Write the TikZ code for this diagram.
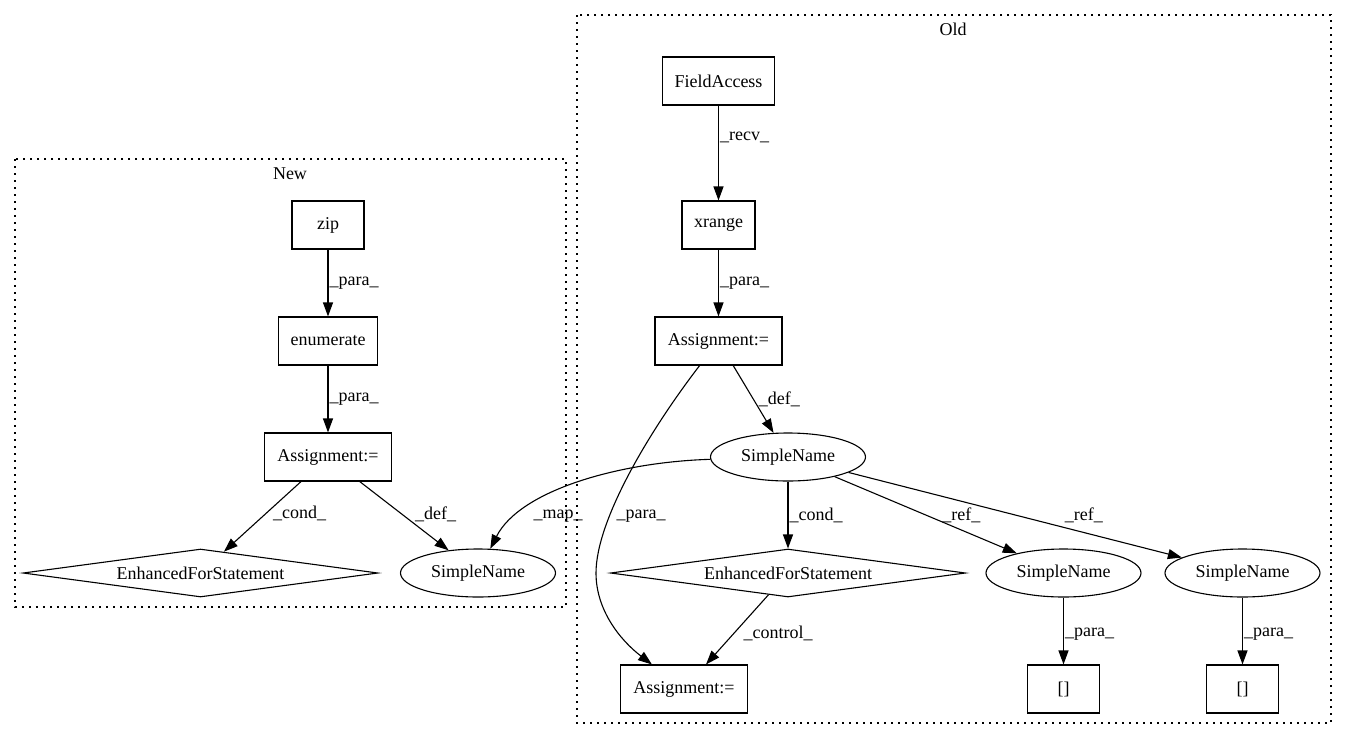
\documentclass[tikz,border=0pt]{standalone}
\usepackage{fontspec}
\setmainfont{Liberation Serif}
\usetikzlibrary{arrows.meta,shapes.geometric,positioning}

\begin{document}
\begin{tikzpicture}[x=1pt,y=-1pt,
    every node/.style={font=\fontsize{18}{20}\selectfont},
    box/.style={draw,line width=1.1pt,rectangle,minimum width=72pt,minimum height=48pt,inner xsep=12pt,inner ysep=0pt},
    oval/.style={draw,line width=1.1pt,ellipse,minimum width=155pt,minimum height=48pt,inner sep=0pt},
    stmt/.style={draw,line width=1.1pt,diamond,aspect=7.4,minimum width=355pt,minimum height=48pt,inner sep=0pt},
    flow/.style={line width=1.1pt,-{Triangle[length=14pt,width=10pt]}},
    lbl/.style={inner sep=0pt,anchor=west,xshift=1pt},
    cluster/.style={line width=1.1pt,dash pattern=on 2pt off 5pt}]
    \useasboundingbox (0,0) rectangle (1347,740);
    % the two clusters
    \draw[cluster] (15,159) rectangle (566,607);
    \node (newlbl) at (290,174) {New};
    \draw[cluster] (577,15) rectangle (1331,723);
    \node (oldlbl) at (953,29) {Old};

    % New
    \node[box] (zip) at (328,225) {zip};
    \node[box] (enum) at (328,341) {enumerate};
    \node[box,minimum width=127pt] (asnew) at (328,457) {Assignment:=};
    \node[stmt] (efsnew) at (200.5,573) {EnhancedForStatement};
    \node[oval] (snnew) at (478,573) {SimpleName};

    % Old
    \node[box] (field) at (718.5,81) {FieldAccess};
    \node[box] (xr) at (718.5,225) {xrange};
    \node[box,minimum width=127pt] (asold) at (718.5,341) {Assignment:=};
    \node[oval] (snold) at (788,457) {SimpleName};
    \node[stmt] (efsold) at (788,573) {EnhancedForStatement};
    \node[oval] (snleft) at (1063.5,573) {SimpleName};
    \node[oval] (snright) at (1242.5,573) {SimpleName};
    \node[box,minimum width=127pt] (asbot) at (684,689) {Assignment:=};
    \node[box] (idxleft) at (1063.5,689) {[]};
    \node[box] (idxright) at (1242.5,689) {[]};

    \draw[flow] (zip) -- node[lbl] {\_para\_} (enum);
    \draw[flow] (enum) -- node[lbl] {\_para\_} (asnew);
    \draw[flow] (asnew) -- node[lbl,pos=.46,xshift=6pt] {\_cond\_} (efsnew);
    \draw[flow] (asnew) -- node[lbl,pos=.47,xshift=12pt] {\_def\_} (snnew);

    \draw[flow] (field) -- node[lbl,pos=.34] {\_recv\_} (xr);
    \draw[flow] (xr) -- node[lbl] {\_para\_} (asold);
    \draw[flow] (asold) -- node[lbl,xshift=4pt] {\_def\_} (snold);
    \draw[flow] (asold) .. controls (650,430) and (596,520) .. (596,573)
      .. controls (596,610) and (620,640) .. (asbot) node[lbl] at (615,516) {\_para\_};
    \draw[flow] (snold) .. controls (620,462) and (520,490) .. (snnew) node[lbl] at (532,516) {\_map\_};
    \draw[flow] (snold) -- node[lbl] {\_cond\_} (efsold);
    \draw[flow] (snold) -- node[lbl,xshift=15pt] {\_ref\_} (snleft);
    \draw[flow] (snold) -- node[lbl,xshift=48pt] {\_ref\_} (snright);
    \draw[flow] (efsold) -- node[lbl,pos=.55,xshift=8pt] {\_control\_} (asbot);
    \draw[flow] (snleft) -- node[lbl,pos=.55] {\_para\_} (idxleft);
    \draw[flow] (snright) -- node[lbl,pos=.55] {\_para\_} (idxright);
\end{tikzpicture}
\end{document}
